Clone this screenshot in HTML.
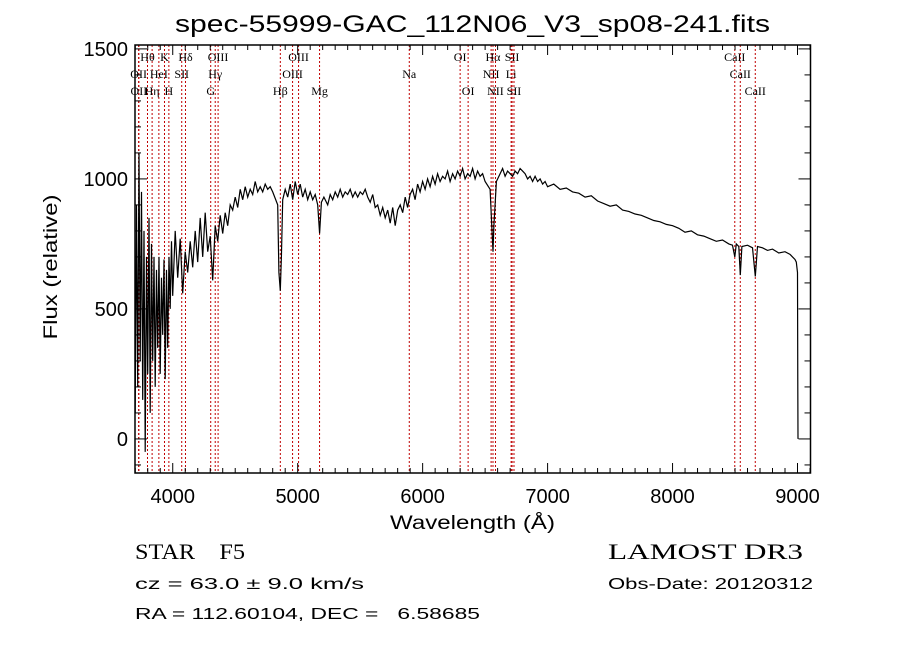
<!DOCTYPE html>
<html><head><meta charset="utf-8"><style>
body{margin:0;background:#fff;width:900px;height:649px;overflow:hidden}
svg{display:block}
text{font-family:"Liberation Sans",sans-serif;fill:#000}
.serif{font-family:"Liberation Serif",serif}
</style></head><body>
<svg id="chart" width="900" height="649" viewBox="0 0 900 649" xmlns="http://www.w3.org/2000/svg">
<text x="175" y="32" font-size="24" textLength="595" lengthAdjust="spacingAndGlyphs">spec-55999-GAC_112N06_V3_sp08-241.fits</text>
<text x="0" y="0" font-size="19" text-anchor="middle" textLength="145" lengthAdjust="spacingAndGlyphs" transform="translate(57,267) rotate(-90)">Flux (relative)</text>
<text x="390" y="529" font-size="19" textLength="165" lengthAdjust="spacingAndGlyphs">Wavelength (Å)</text>
<g id="plot"></g>
<text class="serif" x="135" y="559" font-size="22" xml:space="preserve" textLength="110" lengthAdjust="spacingAndGlyphs">STAR    F5</text>
<text x="135" y="589" font-size="16" textLength="229" lengthAdjust="spacingAndGlyphs">cz = 63.0 ± 9.0 km/s</text>
<text x="135" y="619" font-size="16" xml:space="preserve" textLength="345" lengthAdjust="spacingAndGlyphs">RA = 112.60104, DEC =   6.58685</text>
<text class="serif" x="608" y="559" font-size="22" textLength="195" lengthAdjust="spacingAndGlyphs">LAMOST DR3</text>
<text x="608" y="589" font-size="16" textLength="205" lengthAdjust="spacingAndGlyphs">Obs-Date: 20120312</text>
</svg>
<script>
const wavelengths=[3700,3710,3720,3730,3740,3750,3760,3770,3780,3790,3800,3810,3820,3830,3840,3850,3860,3870,3880,3890,3900,3910,3920,3930,3940,3950,3960,3970,3980,3990,4000,4020,4040,4060,4080,4100,4120,4140,4160,4180,4200,4220,4240,4260,4280,4300,4320,4340,4360,4380,4400,4420,4440,4460,4480,4500,4520,4540,4560,4580,4600,4620,4640,4660,4680,4700,4720,4740,4760,4780,4800,4840,4850,4861,4870,4880,4900,4920,4940,4960,4980,5000,5020,5040,5060,5080,5100,5120,5140,5160,5175,5190,5210,5240,5260,5280,5300,5320,5340,5360,5380,5400,5420,5440,5460,5480,5500,5520,5540,5560,5580,5600,5620,5640,5660,5680,5700,5720,5740,5760,5780,5800,5820,5840,5860,5880,5900,5920,5940,5960,5980,6000,6020,6040,6060,6080,6100,6120,6140,6160,6180,6200,6220,6240,6260,6280,6300,6320,6340,6360,6380,6400,6420,6440,6460,6480,6500,6540,6555,6563,6570,6590,6620,6640,6660,6680,6700,6720,6740,6760,6780,6800,6820,6840,6860,6880,6900,6920,6940,6960,6980,7000,7050,7100,7150,7200,7250,7300,7350,7400,7450,7500,7550,7600,7650,7700,7750,7800,7850,7900,7950,8000,8050,8100,8150,8200,8250,8300,8350,8400,8450,8480,8498,8510,8530,8542,8555,8600,8640,8662,8680,8720,8760,8800,8850,8900,8940,8960,8980,8990,9000,9002,9004];
const fluxes=[100,900,200,1100,300,950,150,800,-50,700,250,850,100,750,300,700,200,650,350,700,250,620,400,690,230,650,350,700,500,760,550,800,620,770,560,720,640,760,660,800,680,850,700,870,720,780,610,820,760,860,790,870,820,900,880,930,890,960,920,970,930,960,940,990,950,970,950,980,960,970,950,900,640,570,700,920,960,930,980,920,990,940,980,930,960,920,950,920,940,900,790,910,930,900,940,920,950,930,960,930,950,940,960,930,950,930,950,940,960,930,910,940,890,900,860,890,850,880,830,890,820,880,900,870,930,890,940,960,920,980,950,990,960,1000,970,1010,980,1020,990,1010,1000,1030,990,1020,1000,1030,1010,1040,1000,1020,1010,1040,1000,1030,1010,1020,990,960,800,720,820,990,1020,1040,1010,1030,1020,1010,1030,1020,1040,1030,1020,1000,1010,990,1010,990,1000,980,990,970,980,960,965,950,945,930,935,915,905,895,900,880,875,865,860,850,840,835,825,820,810,795,800,785,780,770,760,765,750,745,700,750,740,630,740,745,735,625,740,735,725,730,715,720,710,700,690,680,640,200,0];
const lineWaves=[3727,3729,3798,3835,3889,3934,3969,4072,4102,4304,4340,4363,4861,4959,5007,5175,5893,6300,6364,6548,6563,6583,6708,6716,6731,8498,8542,8662];
const lineLabels=["OII","OII","Hθ","Hη","HeI","K","H","SII","Hδ","G","Hγ","OIII","Hβ","OIII","OIII","Mg","Na","OI","OI","NII","Hα","NII","Li","SII","SII","CaII","CaII","CaII"];
const lineRows=[2,3,1,3,2,1,3,2,1,3,2,1,3,2,1,3,2,1,3,2,1,3,2,1,3,1,2,3];
const xTicks=[4000,5000,6000,7000,8000,9000];
const yTicks=[0,500,1000,1500];

const L=135,R=810.5,T=45,B=473;
const X0=3698,X1=9104,Y0=-131,Y1=1515;
const xs=w=>L+(w-X0)/(X1-X0)*(R-L);
const ys=f=>B-(f-Y0)/(Y1-Y0)*(B-T);
const NS="http://www.w3.org/2000/svg";
const g=document.getElementById('plot');
function mk(tag,attrs){const e=document.createElementNS(NS,tag);for(const k in attrs)e.setAttribute(k,attrs[k]);g.appendChild(e);return e;}

lineWaves.forEach((w,i)=>{
  const x=xs(w);
  const ln=mk('line',{x1:x,x2:x,y1:T,y2:B,stroke:'#c00000','stroke-width':1,'stroke-dasharray':'2,2'});
  
  
  const t=mk('text',{x:x,y:[0,61,78,95][lineRows[i]],'font-size':12,'text-anchor':'middle','class':'serif'});
  t.textContent=lineLabels[i];
  
  
});

let d='';
wavelengths.forEach((w,i)=>{d+=(i?'L':'M')+xs(w).toFixed(1)+','+ys(fluxes[i]).toFixed(1);});
const sp=mk('path',{d:d,fill:'none',stroke:'#000','stroke-width':1.2});



const fr=mk('rect',{x:L,y:T,width:R-L,height:B-T,fill:'none',stroke:'#000','stroke-width':1.5});



for(let w=3700;w<=9100;w+=100){
  const x=xs(w),len=(w%1000===0)?10:5;
  mk('line',{x1:x,x2:x,y1:B,y2:B-len,stroke:'#000'});
  mk('line',{x1:x,x2:x,y1:T,y2:T+len,stroke:'#000'});
}
xTicks.forEach(w=>{
  const t=mk('text',{x:xs(w),y:503,'font-size':20,'text-anchor':'middle'});
  t.textContent=w;
  
  
});
for(let f=-100;f<=1500;f+=100){
  const y=ys(f),len=(f%500===0)?12:6;
  mk('line',{x1:L,x2:L+len,y1:y,y2:y,stroke:'#000'});
  mk('line',{x1:R,x2:R-len,y1:y,y2:y,stroke:'#000'});
}
yTicks.forEach(f=>{
  const t=mk('text',{x:128,y:ys(f)+7,'font-size':20,'text-anchor':'end'});
  t.textContent=f;
  
  
});
</script>
</body></html>
